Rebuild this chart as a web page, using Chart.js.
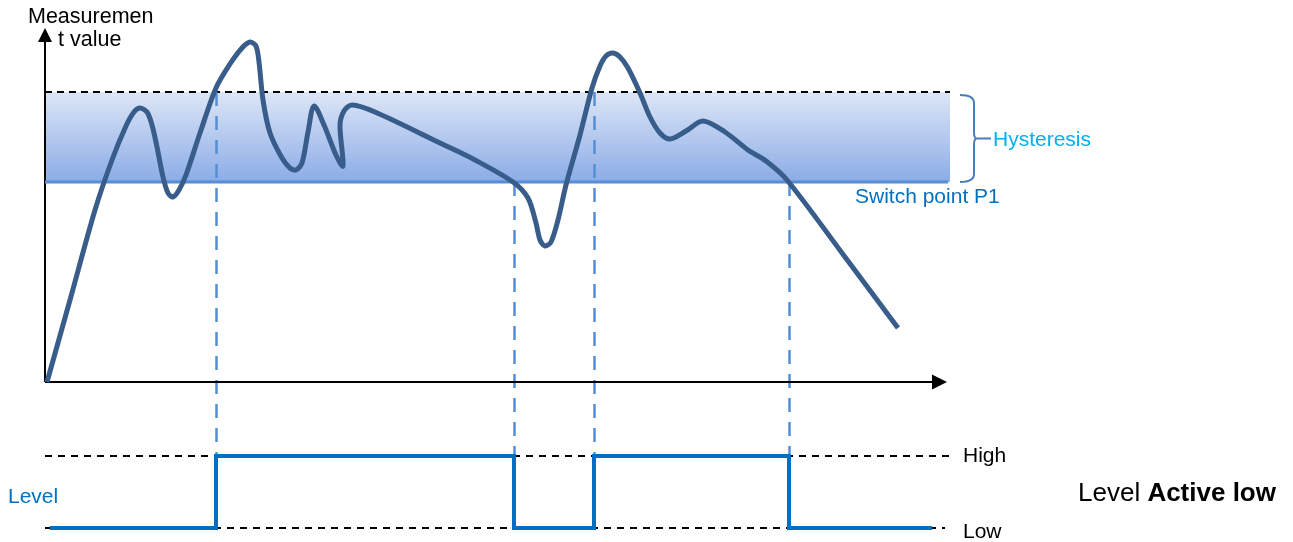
<!DOCTYPE html>
<html><head><meta charset="utf-8">
<script src="https://cdn.jsdelivr.net/npm/chart.js@4/dist/chart.umd.min.js"></script>
<style>html,body{margin:0;padding:0;background:#fff;overflow:hidden}#wrap{width:1293px;height:542px;position:relative}</style>
</head><body><div id="wrap"><canvas id="c" width="1293" height="542"></canvas></div>
<script>
// ---- data ----
const curveTime  = [0.2, 2.5, 5.0, 6.7, 8.1, 8.9, 9.5, 10.2, 10.7, 11.2, 11.8, 12.3, 12.8, 13.4, 14.1, 15.5, 17.1, 18.5, 19.7, 20.5, 21.1, 21.4, 21.8, 22.5, 23.7, 24.5, 25.1, 25.7, 26.3, 26.9, 27.9, 29.1, 29.8, 29.5, 29.9, 30.7, 33.0, 39.5, 43.0, 46.8, 48.3, 49.1, 49.5, 50.0, 50.6, 51.3, 52.1, 53.5, 54.7, 55.5, 56.1, 56.8, 57.5, 58.3, 59.5, 60.5, 61.5, 62.5, 64.1, 65.8, 68.0, 70.3, 72.1, 74.2, 80.0, 85.3];
const curveValue = [0, 41, 86, 111, 128, 135, 137, 135, 128.5, 117.5, 102.5, 94.5, 92.5, 96, 103.5, 124.5, 147, 159, 167, 170, 168, 160, 141, 124.5, 112, 107, 106, 109.5, 125, 138, 128.5, 113.5, 108, 128.5, 135.5, 138.5, 135, 119.5, 111, 100, 92, 79.5, 71, 68, 70, 81, 98.5, 123.5, 147, 158, 163, 164.5, 162.5, 157, 144.5, 132.5, 124.5, 121.5, 125.5, 130.5, 125, 116, 110.5, 101, 62.5, 27];
const switchPointP1 = 100;
const hysteresisTop = 145;
const levelTime  = [0.5, 17.1, 46.9, 54.9, 74.4, 88.7];
const levelState = [0, 1, 0, 1, 0, 0];
const levelTicks = ['Low', 'High'];
const bandEndTime = 90.3;
const axisEndTime = 90.2;
const axisTopValue = 177;

// ---- layout (pixels) ----
const W = 1293, H = 542;
const X0PX = 45, PX_PER_T = 10;
const Y0PX = 382, PX_PER_V = 2;
const HIGH_PX = 456, LOW_PX = 528;
const lvlPPU = LOW_PX - HIGH_PX;
const lvlMax = 1 + HIGH_PX / lvlPPU;

const FONT = '"Liberation Sans", Arial, sans-serif';

const pts = (xs, ys) => xs.map((x, i) => ({x, y: ys[i]}));

const decor = {
  id: 'decor',
  afterDatasetDraw(chart, args) {
    if (args.index !== 5) return;
    const {ctx, scales} = chart;
    const x = scales.x, y = scales.y, yL = scales.yL;
    ctx.save();
    // vertical dashed switch lines
    ctx.strokeStyle = '#558ED5';
    ctx.lineWidth = 2.5;
    ctx.setLineDash([14, 10]);
    for (let i = 1; i < levelTime.length; i++) {
      if (levelState[i] === levelState[i - 1]) continue;
      const from = levelState[i] === 1 ? hysteresisTop : switchPointP1;
      const px = Math.round(x.getPixelForValue(levelTime[i])) + 0.5;
      ctx.beginPath();
      ctx.moveTo(px, y.getPixelForValue(from));
      ctx.lineTo(px, yL.getPixelForValue(1));
      ctx.stroke();
    }
    ctx.setLineDash([]);
    // axes
    const ox = x.getPixelForValue(0), oy = y.getPixelForValue(0);
    const ex = x.getPixelForValue(axisEndTime), ty = y.getPixelForValue(axisTopValue);
    ctx.strokeStyle = '#000'; ctx.fillStyle = '#000'; ctx.lineWidth = 2;
    ctx.beginPath();
    ctx.moveTo(ox, oy); ctx.lineTo(ox, ty + 12);
    ctx.moveTo(ox, oy); ctx.lineTo(ex - 14, oy);
    ctx.stroke();
    ctx.beginPath();
    ctx.moveTo(ox, ty); ctx.lineTo(ox - 7, ty + 14); ctx.lineTo(ox + 7, ty + 14); ctx.closePath(); ctx.fill();
    ctx.beginPath();
    ctx.moveTo(ex, oy); ctx.lineTo(ex - 15, oy - 7.5); ctx.lineTo(ex - 15, oy + 7.5); ctx.closePath(); ctx.fill();
    ctx.restore();
  },
  afterDraw(chart) {
    const {ctx, scales} = chart;
    const x = scales.x, y = scales.y, yL = scales.yL;
    ctx.save();
    // bracket
    const bx = x.getPixelForValue(bandEndTime);
    const x0 = bx + 12, xv = bx + 26, xt = bx + 29;
    const yT = y.getPixelForValue(hysteresisTop) + 3, yB = y.getPixelForValue(switchPointP1);
    const yM = (yT + yB) / 2;
    ctx.strokeStyle = '#4A7EBB'; ctx.lineWidth = 2;
    ctx.beginPath();
    ctx.moveTo(x0, yT);
    ctx.quadraticCurveTo(xv, yT, xv, yT + 8);
    ctx.lineTo(xv, yM - 6);
    ctx.quadraticCurveTo(xv, yM, xt, yM);
    ctx.quadraticCurveTo(xv, yM, xv, yM + 6);
    ctx.lineTo(xv, yB - 8);
    ctx.quadraticCurveTo(xv, yB, x0, yB);
    ctx.moveTo(xt, yM); ctx.lineTo(bx + 43, yM);
    ctx.stroke();
    // texts
    ctx.textBaseline = 'alphabetic';
    ctx.textAlign = 'left';
    const txt = (s, px, py, color, size, weight) => {
      ctx.font = (weight || 'normal') + ' ' + size + 'px ' + FONT;
      ctx.fillStyle = color;
      ctx.fillText(s, px, py);
      return ctx.measureText(s).width;
    };
    txt('Measuremen', 28, 23, '#000', 21.5);
    txt('t value', 58, 46, '#000', 21.5);
    txt('Hysteresis', bx + 45, yM + 7, '#00B0F0', 21);
    txt('Switch point P1', 855, yB + 21, '#0070C0', 21);
    txt('Level', 8, 503, '#0070C0', 21);
    txt(levelTicks[1], 963, yL.getPixelForValue(1) + 6, '#000', 21);
    txt(levelTicks[0], 963, yL.getPixelForValue(0) + 10, '#000', 21);
    const w1 = txt('Level ', 1078, 501, '#000', 26);
    txt('Active low', 1078 + w1, 501, '#000', 26, 'bold');
    ctx.restore();
  }
};

new Chart(document.getElementById('c'), {
  type: 'line',
  data: {
    datasets: [
      { // 0 measurement curve
        data: pts(curveTime, curveValue), yAxisID: 'y',
        borderColor: '#385D8A', borderWidth: 5, tension: 0.3,
        pointRadius: 0, fill: false, order: 1, borderJoinStyle: 'round'
      },
      { // 1 level signal
        data: pts(levelTime, levelState), yAxisID: 'yL', stepped: 'before',
        borderColor: '#0070C0', borderWidth: 4, pointRadius: 0, fill: false, order: 2
      },
      { // 2 High reference
        data: [{x: 0, y: 1}, {x: 90.5, y: 1}], yAxisID: 'yL',
        borderColor: '#000', borderWidth: 2, borderDash: [7, 6], pointRadius: 0, fill: false, order: 5
      },
      { // 3 Low reference
        data: [{x: 0, y: 0}, {x: 90, y: 0}], yAxisID: 'yL',
        borderColor: '#000', borderWidth: 2, borderDash: [7, 6], pointRadius: 0, fill: false, order: 6
      },
      { // 4 switch point P1
        data: [{x: 0, y: switchPointP1}, {x: bandEndTime, y: switchPointP1}], yAxisID: 'y',
        borderColor: '#558ED5', borderWidth: 3, pointRadius: 0, fill: false, order: 8
      },
      { // 5 hysteresis band
        data: [{x: 0, y: hysteresisTop}, {x: bandEndTime + 0.2, y: hysteresisTop}], yAxisID: 'y',
        borderColor: '#000', borderWidth: 2, borderDash: [7, 5], pointRadius: 0,
        fill: {value: switchPointP1}, order: 10,
        backgroundColor: (c) => {
          const ch = c.chart;
          if (!ch.chartArea) return 'rgba(141,173,232,0.6)';
          const s = ch.scales.y;
          const g = ch.ctx.createLinearGradient(0, s.getPixelForValue(hysteresisTop), 0, s.getPixelForValue(switchPointP1));
          g.addColorStop(0, '#DDE6F6');
          g.addColorStop(1, '#8BACE7');
          return g;
        }
      }
    ]
  },
  options: {
    responsive: false, animation: false, events: [],
    layout: {padding: 0},
    plugins: {legend: {display: false}, tooltip: {enabled: false}},
    scales: {
      x: {type: 'linear', display: false, min: -X0PX / PX_PER_T, max: (W - X0PX) / PX_PER_T},
      y: {type: 'linear', display: false, max: Y0PX / PX_PER_V, min: Y0PX / PX_PER_V - H / PX_PER_V},
      yL: {type: 'linear', display: false, max: lvlMax, min: lvlMax - H / lvlPPU}
    }
  },
  plugins: [decor]
});
</script></body></html>
